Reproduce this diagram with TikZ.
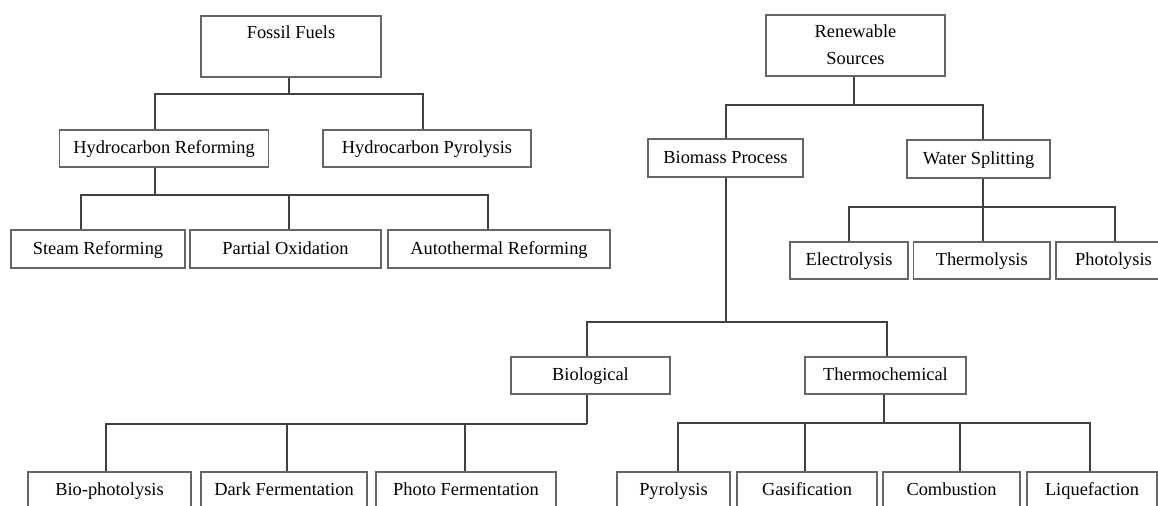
\documentclass[tikz,border=0pt]{standalone}
\usepackage{fontspec}
\setmainfont{Liberation Serif}
\usetikzlibrary{calc}
\tikzset{
  box/.style={draw=black!60,line width=0.6pt,inner sep=0pt,minimum height=18.5pt,
    text=black,align=center,font=\fontsize{9.2}{13.5}\selectfont,
    execute at begin node=\strut},
  tallbox/.style={box,minimum height=30.5pt,execute at begin node={}},
  conn/.style={draw=black!75,line width=0.6pt}
}
\begin{document}
\begin{tikzpicture}[x=0.5pt,y=-0.5pt]
  \path[use as bounding box,clip](0,0)rectangle(1158,506);
  % fossil branch
  \node[tallbox,minimum width=90pt](ff)at(291,46.5){\strut Fossil Fuels\\\strut};
  \node[box,minimum width=104.25pt](hr)at(164,148.5){Hydrocarbon Reforming};
  \node[box,minimum width=104pt](hp)at(427,148.5){Hydrocarbon Pyrolysis};
  \node[box,minimum width=87pt,minimum height=19pt](sr)at(98,249){Steam Reforming};
  \node[box,minimum width=95.5pt,minimum height=19pt](po)at(285.5,249){Partial Oxidation};
  \node[box,minimum width=111pt,minimum height=19pt](at)at(499,249){Autothermal Reforming};
  % renewable branch
  \node[tallbox,minimum width=89.5pt](rs)at(855.5,45.5){\strut Renewable\\\strut Sources};
  \node[box,minimum width=77.5pt,minimum height=19pt](bp)at(725.5,158){Biomass Process};
  \node[box,minimum width=71.5pt,minimum height=19pt](ws)at(978.5,159){Water Splitting};
  \node[box,minimum width=59pt](el)at(849,260.5){Electrolysis};
  \node[box,minimum width=68.25pt](th)at(981.75,260.5){Thermolysis};
  \node[box,minimum width=57.5pt](ph)at(1113.5,260.5){Photolysis};
  \node[box,minimum width=79.5pt](bi)at(590.5,375.5){Biological};
  \node[box,minimum width=80.5pt](tc)at(885.5,375.5){Thermochemical};
  \node[box,minimum width=81.5pt](b1)at(109.5,490.5){Bio-photolysis};
  \node[box,minimum width=83pt](b2)at(284,490.5){Dark Fermentation};
  \node[box,minimum width=90pt](b3)at(466,490.5){Photo Fermentation};
  \node[box,minimum width=56.5pt](t1)at(673.5,490.5){Pyrolysis};
  \node[box,minimum width=70pt](t2)at(807,490.5){Gasification};
  \node[box,minimum width=68.5pt](t3)at(951.5,490.5){Combustion};
  \node[box,minimum width=65pt](t4)at(1092,490.5){Liquefaction};
  % connectors
  \coordinate(ffbus)at(289,94);
  \coordinate(hrbus)at(155,195);
  \coordinate(rsbus)at(854,105);
  \coordinate(wsbus)at(983,207);
  \coordinate(bpbus)at(726,322);
  \coordinate(bibus)at(587,424);
  \coordinate(tcbus)at(884,423);
  \draw[conn](ff.south -| ffbus)--(ffbus);
  \foreach \n/\dx in {hr/-9,hp/-4} \draw[conn]($(\n.north)+(\dx,0)$)|-(ffbus);
  \draw[conn](hr.south -| hrbus)--(hrbus);
  \foreach \n/\dx in {sr/-17,po/3.5,at/-11} \draw[conn]($(\n.north)+(\dx,0)$)|-(hrbus);
  \draw[conn](rs.south -| rsbus)--(rsbus);
  \foreach \n/\dx in {bp/0.5,ws/4.5} \draw[conn]($(\n.north)+(\dx,0)$)|-(rsbus);
  \draw[conn](ws.south -| wsbus)--(wsbus);
  \foreach \n/\dx in {el/0,th/1.25,ph/1.5} \draw[conn]($(\n.north)+(\dx,0)$)|-(wsbus);
  \draw[conn](bp.south -| bpbus)--(bpbus);
  \foreach \n/\dx in {bi/-3.5,tc/1.5} \draw[conn]($(\n.north)+(\dx,0)$)|-(bpbus);
  \draw[conn](bi.south -| bibus)--(bibus);
  \foreach \n/\dx in {b1/-3.5,b2/3,b3/-1} \draw[conn]($(\n.north)+(\dx,0)$)|-(bibus);
  \draw[conn](tc.south -| tcbus)--(tcbus);
  \foreach \n/\dx in {t1/4.5,t2/-2,t3/8.5,t4/-2} \draw[conn]($(\n.north)+(\dx,0)$)|-(tcbus);
\end{tikzpicture}
\end{document}
